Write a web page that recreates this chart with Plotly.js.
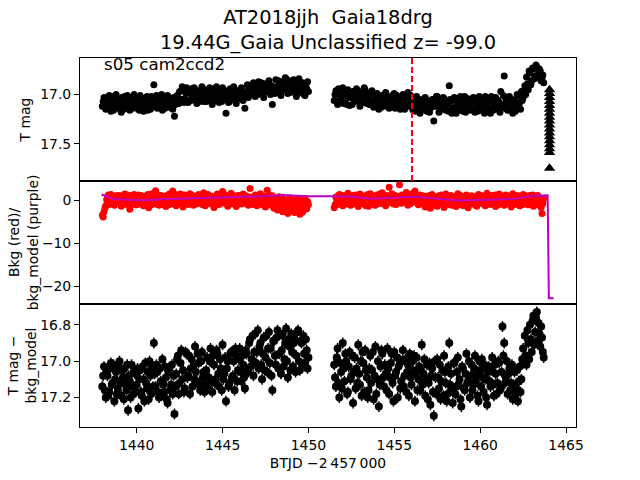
<!DOCTYPE html>
<html>
<head>
<meta charset="utf-8">
<script src="https://cdn.plot.ly/plotly-3.0.1.min.js"></script>
<style>
  html, body { margin: 0; padding: 0; background: #fff; }
  #plot { width: 640px; height: 480px; }
</style>
</head>
<body>
<div id="plot"></div>
<script>
// BTJD - 2457000, first orbit and second orbit
var timeA = [
  1438.00, 1438.05, 1438.10, 1438.15, 1438.20, 1438.25, 1438.30, 1438.35, 1438.40, 1438.45,
  1438.50, 1438.55, 1438.60, 1438.65, 1438.70, 1438.75, 1438.80, 1438.85, 1438.90, 1438.95,
  1439.00, 1439.05, 1439.10, 1439.15, 1439.20, 1439.25, 1439.30, 1439.35, 1439.40, 1439.45,
  1439.50, 1439.55, 1439.60, 1439.65, 1439.70, 1439.75, 1439.80, 1439.85, 1439.90, 1439.95,
  1440.00, 1440.05, 1440.10, 1440.15, 1440.20, 1440.25, 1440.30, 1440.35, 1440.40, 1440.45,
  1440.50, 1440.55, 1440.60, 1440.65, 1440.70, 1440.75, 1440.80, 1440.85, 1440.90, 1440.95,
  1441.00, 1441.05, 1441.10, 1441.15, 1441.20, 1441.25, 1441.30, 1441.35, 1441.40, 1441.45,
  1441.50, 1441.55, 1441.60, 1441.65, 1441.70, 1441.75, 1441.80, 1441.85, 1441.90, 1441.95,
  1442.00, 1442.05, 1442.10, 1442.15, 1442.20, 1442.25, 1442.30, 1442.35, 1442.40, 1442.45,
  1442.50, 1442.55, 1442.60, 1442.65, 1442.70, 1442.75, 1442.80, 1442.85, 1442.90, 1442.95,
  1443.00, 1443.05, 1443.10, 1443.15, 1443.20, 1443.25, 1443.30, 1443.35, 1443.40, 1443.45,
  1443.50, 1443.55, 1443.60, 1443.65, 1443.70, 1443.75, 1443.80, 1443.85, 1443.90, 1443.95,
  1444.00, 1444.05, 1444.10, 1444.15, 1444.20, 1444.25, 1444.30, 1444.35, 1444.40, 1444.45,
  1444.50, 1444.55, 1444.60, 1444.65, 1444.70, 1444.75, 1444.80, 1444.85, 1444.90, 1444.95,
  1445.00, 1445.05, 1445.10, 1445.15, 1445.20, 1445.25, 1445.30, 1445.35, 1445.40, 1445.45,
  1445.50, 1445.55, 1445.60, 1445.65, 1445.70, 1445.75, 1445.80, 1445.85, 1445.90, 1445.95,
  1446.00, 1446.05, 1446.10, 1446.15, 1446.20, 1446.25, 1446.30, 1446.35, 1446.40, 1446.45,
  1446.50, 1446.55, 1446.60, 1446.65, 1446.70, 1446.75, 1446.80, 1446.85, 1446.90, 1446.95,
  1447.00, 1447.05, 1447.10, 1447.15, 1447.20, 1447.25, 1447.30, 1447.35, 1447.40, 1447.45,
  1447.50, 1447.55, 1447.60, 1447.65, 1447.70, 1447.75, 1447.80, 1447.85, 1447.90, 1447.95,
  1448.00, 1448.05, 1448.10, 1448.15, 1448.20, 1448.25, 1448.30, 1448.35, 1448.40, 1448.45,
  1448.50, 1448.55, 1448.60, 1448.65, 1448.70, 1448.75, 1448.80, 1448.85, 1448.90, 1448.95,
  1449.00, 1449.05, 1449.10, 1449.15, 1449.20, 1449.25, 1449.30, 1449.35, 1449.40, 1449.45,
  1449.50, 1449.55, 1449.60, 1449.65, 1449.70, 1449.75, 1449.80, 1449.85, 1449.90, 1449.95,
  1450.00
];
var timeB = [
  1451.50, 1451.55, 1451.60, 1451.65, 1451.70, 1451.75, 1451.80, 1451.85, 1451.90, 1451.95,
  1452.00, 1452.05, 1452.10, 1452.15, 1452.20, 1452.25, 1452.30, 1452.35, 1452.40, 1452.45,
  1452.50, 1452.55, 1452.60, 1452.65, 1452.70, 1452.75, 1452.80, 1452.85, 1452.90, 1452.95,
  1453.00, 1453.05, 1453.10, 1453.15, 1453.20, 1453.25, 1453.30, 1453.35, 1453.40, 1453.45,
  1453.50, 1453.55, 1453.60, 1453.65, 1453.70, 1453.75, 1453.80, 1453.85, 1453.90, 1453.95,
  1454.00, 1454.05, 1454.10, 1454.15, 1454.20, 1454.25, 1454.30, 1454.35, 1454.40, 1454.45,
  1454.50, 1454.55, 1454.60, 1454.65, 1454.70, 1454.75, 1454.80, 1454.85, 1454.90, 1454.95,
  1455.00, 1455.05, 1455.10, 1455.15, 1455.20, 1455.25, 1455.30, 1455.35, 1455.40, 1455.45,
  1455.50, 1455.55, 1455.60, 1455.65, 1455.70, 1455.75, 1455.80, 1455.85, 1455.90, 1455.95,
  1456.00, 1456.05, 1456.10, 1456.15, 1456.20, 1456.25, 1456.30, 1456.35, 1456.40, 1456.45,
  1456.50, 1456.55, 1456.60, 1456.65, 1456.70, 1456.75, 1456.80, 1456.85, 1456.90, 1456.95,
  1457.00, 1457.05, 1457.10, 1457.15, 1457.20, 1457.25, 1457.30, 1457.35, 1457.40, 1457.45,
  1457.50, 1457.55, 1457.60, 1457.65, 1457.70, 1457.75, 1457.80, 1457.85, 1457.90, 1457.95,
  1458.00, 1458.05, 1458.10, 1458.15, 1458.20, 1458.25, 1458.30, 1458.35, 1458.40, 1458.45,
  1458.50, 1458.55, 1458.60, 1458.65, 1458.70, 1458.75, 1458.80, 1458.85, 1458.90, 1458.95,
  1459.00, 1459.05, 1459.10, 1459.15, 1459.20, 1459.25, 1459.30, 1459.35, 1459.40, 1459.45,
  1459.50, 1459.55, 1459.60, 1459.65, 1459.70, 1459.75, 1459.80, 1459.85, 1459.90, 1459.95,
  1460.00, 1460.05, 1460.10, 1460.15, 1460.20, 1460.25, 1460.30, 1460.35, 1460.40, 1460.45,
  1460.50, 1460.55, 1460.60, 1460.65, 1460.70, 1460.75, 1460.80, 1460.85, 1460.90, 1460.95,
  1461.00, 1461.05, 1461.10, 1461.15, 1461.20, 1461.25, 1461.30, 1461.35, 1461.40, 1461.45,
  1461.50, 1461.55, 1461.60, 1461.65, 1461.70, 1461.75, 1461.80, 1461.85, 1461.90, 1461.95,
  1462.00, 1462.05, 1462.10, 1462.15, 1462.20, 1462.25, 1462.30, 1462.35, 1462.40, 1462.45,
  1462.50, 1462.55, 1462.60, 1462.65, 1462.70, 1462.75, 1462.80, 1462.85, 1462.90, 1462.95,
  1463.00, 1463.05, 1463.10, 1463.15, 1463.20, 1463.25, 1463.30, 1463.35, 1463.40, 1463.45,
  1463.50, 1463.55, 1463.60, 1463.65, 1463.70
];

// T mag
var magA = [
  17.12, 17.07, 17.03, 17.10, 17.15, 17.04, 17.08, 17.13, 17.01, 17.09, 17.17, 17.02, 17.06, 17.16, 17.11, 17.05, 17.00, 17.09, 17.14, 17.06,
  17.05, 17.12, 17.18, 17.03, 17.09, 17.15, 17.02, 17.08, 17.13, 17.01, 17.07, 17.11, 17.16, 17.04, 17.03, 17.14, 17.10, 17.00, 17.05, 17.12,
  17.14, 17.03, 17.08, 17.16, 17.01, 17.07, 17.12, 17.04, 17.17, 17.10, 17.06, 17.13, 17.02, 17.16, 17.11, 17.05, 17.15, 17.02, 17.04, 17.10,
  16.90, 17.04, 17.09, 17.01, 17.14, 17.08, 17.02, 17.12, 17.07, 17.00, 17.16, 17.06, 17.04, 17.14, 17.10, 17.03, 17.01, 17.11, 17.13, 17.05,
  17.06, 17.12, 17.15, 17.03, 17.22, 17.10, 17.08, 17.01, 17.03, 17.09, 16.97, 17.05, 17.06, 16.92, 16.95, 17.08, 17.04, 16.98, 16.93, 17.06,
  17.08, 16.95, 16.99, 17.06, 16.94, 17.01, 17.05, 16.93, 16.98, 17.04, 17.09, 16.97, 16.96, 17.07, 17.02, 16.95, 16.92, 17.03, 17.07, 16.98,
  17.00, 17.07, 16.95, 17.02, 17.06, 16.93, 16.99, 17.05, 17.10, 16.98, 16.94, 17.06, 17.03, 16.92, 16.97, 17.04, 17.08, 16.96, 17.01, 17.07,
  16.93, 17.00, 17.05, 16.96, 17.19, 17.03, 16.98, 17.08, 17.07, 16.94, 16.95, 17.02, 17.04, 16.92, 16.99, 17.06, 17.09, 17.00, 16.96, 17.04,
  17.02, 16.96, 16.93, 17.04, 17.06, 16.98, 17.14, 17.01, 16.97, 16.90, 17.03, 16.95, 16.91, 17.00, 16.99, 16.92, 16.88, 16.97, 17.02, 16.90,
  16.94, 17.00, 16.87, 16.95, 16.98, 16.88, 16.92, 16.99, 17.03, 16.93, 16.89, 16.97, 16.96, 16.90, 16.86, 16.98, 17.00, 16.91, 17.10, 16.95,
  16.93, 16.99, 16.85, 16.92, 16.97, 16.86, 16.90, 16.96, 17.01, 16.93, 16.87, 16.95, 16.95, 16.83, 16.84, 16.92, 16.99, 16.88, 16.91, 16.98,
  16.86, 16.93, 16.97, 16.85, 16.89, 16.96, 17.02, 16.91, 16.93, 16.84, 16.87, 16.95, 16.98, 16.88, 16.91, 17.00, 17.01, 16.90, 16.94, 16.87,
  16.97
];
var magB = [
  17.06, 17.00, 16.96, 17.07, 17.10, 16.94, 16.99, 17.05, 17.04, 16.98, 16.93, 17.09, 17.08, 16.96, 17.01, 17.10, 16.95, 17.03, 17.11, 16.99,
  17.03, 17.10, 16.97, 17.02, 17.07, 16.99, 16.94, 17.06, 17.05, 16.97, 17.12, 17.01, 16.98, 17.08, 17.02, 16.93, 16.95, 17.04, 17.09, 16.99,
  17.00, 17.10, 17.06, 16.98, 16.96, 17.08, 17.13, 17.01, 17.04, 17.12, 16.99, 17.06, 17.15, 17.02, 17.07, 17.13, 17.01, 17.05, 17.11, 17.00,
  16.98, 17.12, 17.08, 17.03, 17.14, 17.06, 17.02, 17.11, 17.10, 17.00, 16.99, 17.14, 17.06, 17.01, 17.13, 17.07, 17.03, 17.15, 17.09, 17.04,
  17.00, 17.09, 17.15, 17.03, 17.05, 17.12, 16.98, 17.07, 17.11, 17.01, 17.04, 17.14, 17.16, 17.06, 17.08, 17.17, 17.02, 17.10, 17.13, 17.05,
  17.19, 17.09, 17.06, 17.15, 17.11, 17.04, 17.03, 17.13, 17.17, 17.07, 17.09, 17.18, 17.14, 17.06, 17.05, 17.12, 17.27, 17.08, 17.12, 17.02,
  17.02, 17.11, 17.18, 17.06, 17.08, 17.15, 17.13, 17.03, 17.04, 17.12, 17.16, 17.07, 17.10, 17.17, 16.91, 17.05, 17.07, 17.19, 17.14, 17.04,
  17.03, 17.13, 17.19, 17.06, 17.09, 17.16, 17.12, 17.02, 17.05, 17.14, 17.17, 17.08, 17.02, 17.18, 17.11, 17.04, 17.15, 17.09, 17.06, 17.16,
  17.13, 17.07, 17.03, 17.15, 17.18, 17.05, 17.08, 17.17, 17.12, 17.02, 17.04, 17.13, 17.16, 17.06, 17.09, 17.19, 17.02, 17.10, 17.14, 17.05,
  17.07, 17.14, 17.19, 17.02, 17.05, 17.16, 17.11, 17.04, 17.03, 17.13, 17.15, 17.06, 17.08, 17.18, 16.97, 17.10, 17.12, 17.01, 16.81, 17.14,
  17.05, 17.11, 17.16, 17.03, 17.02, 17.14, 17.10, 17.05, 17.19, 17.08, 17.06, 17.17, 17.13, 17.00, 17.01, 17.12, 17.08, 17.15, 16.97, 17.06,
  17.03, 16.96, 16.91, 17.00, 16.82, 16.89, 16.95, 16.76, 16.78, 16.90, 16.86, 16.73, 16.74, 16.84, 16.81, 16.70, 16.72, 16.83, 16.79, 16.74,
  16.76, 16.86, 16.84, 16.80, 16.88
];

// upper limits (triangles)
var limTime = [1464.04, 1464.04, 1464.04, 1464.04, 1464.04, 1464.04, 1464.04, 1464.04, 1464.04,
               1464.04, 1464.04, 1464.04, 1464.04, 1464.04, 1464.04, 1464.04, 1464.04, 1464.04];
var limMag = [16.95, 16.99, 17.03, 17.07, 17.11, 17.15, 17.19, 17.23, 17.27,
              17.31, 17.35, 17.39, 17.43, 17.47, 17.51, 17.55, 17.59, 17.75];

// background (red)
var bkgA = [
  -3.4, -3.8, -2.6, -1.8, -1.2, 0.2, 0.8, 1.3, -0.9, 0.5, 1.4, -0.6, 0.2, 1.0, -1.1, -0.2, 1.1, 0.6, -0.4, 1.2,
  0.9, -0.3, -1.3, 1.1, 0.5, -0.9, 1.5, 0.4, -0.7, 1.3, 0.3, -1.1, -2.0, 0.6, 1.2, -0.8, -0.2, 1.4, 0.7, -1.0,
  -1.0, 0.5, 1.3, -0.1, -0.5, 1.2, 0.4, -0.9, -1.2, 0.7, 1.0, -0.6, -0.3, 1.4, -1.7, 0.2, 0.6, -1.0, 1.6, 0.1,
  -0.6, 0.9, 2.3, -0.8, 0.1, 1.3, -1.1, 0.4, 1.2, -0.9, -0.4, 1.0, 0.8, -0.5, -1.4, 1.1, 0.3, -1.0, 1.5, 0.0,
  -0.8, 1.2, 2.2, -0.3, 0.5, 1.4, -1.2, 0.3, 1.0, -0.7, -0.1, 1.5, 0.7, -0.9, -1.5, 0.6, 1.3, -0.4, 0.0, 1.1,
  -0.9, 0.8, 1.6, -0.5, 0.4, 1.2, -1.1, 0.2, 0.9, -0.8, -0.3, 1.0, 1.4, -0.2, -0.7, 1.3, 0.6, -1.0, 1.8, 0.1,
  -1.2, 0.9, 0.2, 1.4, 1.1, -0.7, -0.5, 1.0, 0.8, -0.3, -1.6, 0.6, 0.3, -1.0, 1.5, 0.1, -0.9, 1.2, 0.5, -0.6,
  2.1, 0.7, -0.2, 1.3, 1.0, -0.5, -1.3, 0.9, 0.6, -0.8, 1.7, 0.2, -0.6, 1.1, 0.1, -1.0, -1.4, 0.5, 1.2, -0.3,
  0.4, 1.2, -0.8, 0.6, 1.5, -0.6, -0.1, 1.1, 0.9, -0.4, -1.1, 0.8, 2.8, -0.2, 0.7, -0.9, -0.5, 1.0, 1.3, -0.7,
  -1.2, 0.7, 0.2, -0.6, 1.6, 0.3, -0.9, 1.0, 0.5, -1.1, -1.5, 0.8, 2.4, -0.4, 0.0, 1.2, -1.0, 0.4, 1.1, -1.4,
  -1.8, -0.6, 0.4, -1.2, -2.2, -0.3, 0.9, -2.0, -1.3, 0.6, -2.6, -0.9, 0.2, -2.4, -1.7, 0.1, -3.0, -1.1, 0.6, -2.5,
  -2.1, 0.2, -0.8, -1.6, -2.8, -0.5, 0.3, -2.2, -1.5, 0.4, -3.2, -1.0, -0.4, -2.7, -2.3, 0.1, 0.5, -1.4, -1.9, -0.2,
  -0.9
];
var bkgB = [
  -1.7, -1.0, 0.8, -0.3, -0.9, 0.9, 1.4, -0.6, 0.1, 1.2, -1.2, 0.5, 1.1, -0.8, -0.4, 1.0, 1.7, -0.2, 0.3, -1.1,
  -1.0, 0.6, 1.2, -0.7, -0.3, 1.3, 0.7, -0.9, -1.4, 0.4, 1.5, -0.5, 0.0, 1.1, -0.8, 0.8, 1.0, -1.2, 0.4, 1.4,
  -1.3, 0.3, 1.6, -0.2, -0.5, 1.1, 0.9, -1.0, -1.1, 0.6, 1.3, -0.4, 0.2, 1.5, -0.7, 0.8, 1.8, -0.6, 0.5, 1.2,
  -1.2, 0.4, 1.1, -0.5, 3.1, 0.9, -0.4, 1.6, 1.4, -0.8, 0.3, 1.2, -0.9, 0.7, 0.6, -0.3, 3.7, 1.0, -0.6, 1.3,
  1.2, -0.5, 0.1, 1.4, 1.9, 0.3, -1.1, 0.9, 0.7, -0.7, 1.5, 0.2, -0.3, 1.7, 2.2, -0.4, 0.4, 1.1, -1.0, 0.6,
  1.3, 0.2, -0.6, 1.1, 0.8, -0.9, -1.5, 0.6, 1.0, -0.4, 0.0, 1.2, -1.8, -0.3, 1.4, 0.4, -0.8, 0.9, 0.5, -1.2,
  -1.3, 0.5, 1.1, -0.7, -0.2, 1.3, 0.7, -1.0, -1.6, 0.4, 1.5, -0.5, 0.3, 1.0, -0.9, 0.8, 1.2, -1.1, -0.4, 0.9,
  0.6, -0.3, -1.4, 0.8, 1.6, -0.6, 0.1, 1.2, -1.0, 0.3, 0.9, -1.2, -0.5, 0.7, 1.3, -0.8, -1.7, 1.0, 0.4, -0.4,
  1.1, -0.2, -0.8, 0.9, 0.2, -1.0, -1.3, 0.6, 1.4, -0.5, 0.5, 1.2, -0.6, 0.3, 1.0, -0.9, -1.2, 0.7, 1.7, -0.1,
  0.0, 1.0, -0.9, 0.5, 1.2, -0.6, 0.3, 1.3, -1.4, -0.2, 0.8, -1.0, 1.5, 0.2, -0.7, 1.1, 0.4, -0.5, -1.1, 0.9,
  1.3, -0.7, -0.3, 1.0, 0.9, -0.4, -1.5, 0.5, 1.6, -0.9, 0.2, 1.2, -0.8, 0.7, 1.1, -0.5, -1.2, 0.8, 0.6, -1.0,
  1.4, 0.3, -0.5, 1.1, 0.9, -0.8, -1.0, 0.6, 1.2, -0.3, 0.0, 1.3, -1.3, 0.4, 1.0, -0.9, -0.6, 1.2, 0.8, -0.4,
  -1.1, -1.6, -3.0, -0.7, 0.4
];

// background model (purple)
var modelTime = [1437.95, 1438.2, 1438.5, 1438.8, 1439.5, 1440.3, 1441.5, 1442.5, 1444.2,
                 1446.0, 1447.5, 1448.5, 1449.2, 1449.9, 1451.5, 1452.6, 1453.6, 1454.8,
                 1456.1, 1457.5, 1458.8, 1460.5, 1462.0, 1463.1, 1463.93, 1464.0, 1464.28];
var modelBkg = [1.4, 1.0, 0.6, 0.3, 0.2, 0.1, 0.3, 0.4, 0.6,
                0.8, 1.0, 1.3, 1.2, 1.0, 1.0, 0.9, 0.4, 0.6,
                0.9, 0.4, 0.0, 0.2, 0.4, 1.1, 1.2, -22.7, -22.7];

// T mag - bkg_model
var detA = [
  17.14, 17.08, 17.03, 17.16, 17.20, 17.05, 17.08, 17.19, 17.17, 17.04, 17.01, 17.13, 17.12, 17.02, 17.22, 17.10, 17.06, 17.18, 17.15, 17.03,
  17.00, 17.12, 17.19, 17.05, 17.09, 17.21, 17.04, 17.13, 17.16, 17.02, 17.27, 17.08, 17.11, 17.20, 17.02, 17.14, 17.18, 17.05, 17.07, 17.17,
  17.13, 17.04, 17.26, 17.10, 17.05, 17.17, 17.19, 17.03, 17.10, 17.22, 17.01, 17.12, 17.15, 17.06, 17.21, 17.00, 17.08, 17.18, 17.03, 17.14,
  16.90, 17.07, 17.14, 17.02, 17.06, 17.17, 17.20, 17.04, 17.11, 17.19, 16.99, 17.13, 17.17, 17.03, 17.09, 17.21, 17.23, 17.06, 17.04, 17.16,
  17.13, 17.02, 17.18, 17.08, 17.29, 17.14, 17.07, 16.99, 16.97, 17.18, 17.12, 17.01, 16.94, 17.10, 17.05, 17.17, 17.15, 16.95, 16.96, 17.09,
  17.08, 16.97, 17.18, 17.04, 16.99, 17.14, 17.03, 17.10, 16.92, 17.06, 17.11, 16.96, 17.01, 17.13, 17.16, 17.00, 16.95, 17.09, 17.06, 17.17,
  17.13, 17.05, 16.98, 17.15, 17.09, 17.00, 16.93, 17.11, 17.17, 16.97, 17.02, 17.12, 17.10, 16.94, 16.96, 17.07, 17.14, 16.99, 17.04, 17.16,
  16.91, 17.10, 17.07, 16.98, 17.22, 17.04, 17.00, 17.14, 17.12, 16.96, 16.95, 17.09, 17.08, 17.00, 17.16, 16.93, 16.97, 17.11, 17.05, 16.99,
  16.93, 17.06, 17.11, 16.97, 17.02, 17.09, 17.15, 16.94, 16.96, 17.05, 17.06, 16.90, 16.88, 17.03, 16.99, 16.86, 17.08, 16.95, 16.85, 17.01,
  16.95, 16.83, 17.04, 16.92, 16.90, 17.02, 17.10, 16.96, 16.87, 17.05, 16.98, 16.86, 17.06, 16.93, 16.84, 17.01, 16.93, 17.08, 17.16, 16.89,
  16.89, 16.97, 17.02, 16.87, 16.83, 17.04, 16.96, 16.85, 17.07, 16.94, 16.86, 17.03, 16.99, 16.90, 16.82, 17.00, 17.09, 16.88, 16.92, 17.05,
  16.85, 16.95, 17.03, 16.90, 16.88, 17.06, 16.97, 16.84, 16.83, 17.00, 17.05, 16.89, 16.90, 17.02, 16.86, 16.96, 17.01, 16.88, 16.94, 17.04,
  16.98
];
var detB = [
  17.02, 17.09, 17.14, 16.98, 16.93, 17.12, 17.20, 17.01, 17.06, 17.15, 16.90, 17.04, 17.11, 16.96, 17.00, 17.18, 17.17, 17.03, 16.95, 17.10,
  17.08, 16.97, 17.23, 17.06, 16.98, 17.15, 17.04, 17.12, 16.91, 17.07, 17.13, 17.00, 17.19, 16.95, 17.01, 17.17, 16.94, 17.05, 17.09, 17.20,
  17.16, 17.04, 16.97, 17.12, 17.05, 16.95, 17.21, 17.08, 16.92, 17.18, 17.10, 17.00, 17.25, 17.13, 17.03, 16.94, 16.96, 17.09, 17.14, 17.02,
  17.07, 17.16, 16.93, 17.04, 17.18, 17.09, 17.01, 16.96, 17.12, 17.22, 16.95, 17.08, 17.06, 16.98, 17.20, 17.03, 16.99, 17.15, 17.11, 17.00,
  16.94, 17.14, 17.08, 16.99, 17.17, 17.06, 17.02, 17.19, 16.96, 17.09, 17.13, 17.00, 17.05, 16.97, 17.22, 17.07, 16.98, 17.16, 17.10, 17.03,
  17.16, 17.05, 16.91, 17.13, 17.07, 16.99, 17.19, 17.10, 17.02, 17.21, 17.12, 17.01, 17.24, 17.08, 17.04, 17.17, 17.30, 17.00, 17.09, 17.18,
  16.99, 17.09, 17.15, 17.02, 17.21, 17.11, 17.05, 17.19, 16.97, 17.06, 17.12, 17.22, 17.18, 17.03, 16.90, 17.13, 17.07, 17.16, 17.23, 17.01,
  17.01, 17.18, 17.14, 17.06, 16.98, 17.13, 17.10, 17.21, 17.25, 17.03, 17.04, 17.15, 17.16, 17.07, 16.96, 17.12, 17.11, 17.00, 17.20, 17.08,
  17.02, 17.16, 17.13, 17.04, 16.97, 17.11, 17.08, 17.19, 17.22, 17.00, 17.05, 17.14, 16.99, 17.09, 17.17, 17.02, 17.10, 17.20, 17.24, 17.06,
  17.03, 17.11, 17.14, 17.05, 16.98, 17.13, 17.19, 17.02, 17.07, 17.18, 17.12, 17.00, 17.01, 17.16, 17.15, 17.06, 16.81, 16.97, 16.90, 17.12,
  17.09, 17.00, 17.18, 17.07, 17.04, 17.16, 17.12, 17.02, 17.21, 17.13, 17.06, 17.19, 17.15, 17.05, 17.22, 17.11, 17.03, 17.17, 17.10, 16.99,
  16.93, 17.01, 16.86, 16.97, 17.02, 16.83, 16.90, 16.99, 16.80, 16.88, 16.95, 16.78, 16.75, 16.91, 16.84, 16.76, 16.73, 16.89, 16.79, 16.85,
  16.92, 16.81, 16.87, 16.95, 16.98
];

var peakTime = 1456.03;

var time = timeA.concat(timeB);
var mag = magA.concat(magB);
var bkg = bkgA.concat(bkgB);
var det = detA.concat(detB);

var FONT = "DejaVu Sans, sans-serif";

var trace1 = {
  x: time, y: mag, xaxis: "x", yaxis: "y",
  type: "scatter", mode: "markers",
  marker: {color: "black", size: 7},
  error_y: {type: "constant", value: 0.025, color: "black", thickness: 1, width: 0},
  hoverinfo: "skip"
};
var trace2 = {
  x: limTime, y: limMag, xaxis: "x", yaxis: "y",
  type: "scatter", mode: "markers",
  marker: {color: "black", size: 10, symbol: "triangle-up"},
  hoverinfo: "skip"
};
var trace3 = {
  x: time, y: bkg, xaxis: "x2", yaxis: "y2",
  type: "scatter", mode: "markers",
  marker: {color: "red", size: 7},
  hoverinfo: "skip"
};
var trace4 = {
  x: modelTime, y: modelBkg, xaxis: "x2", yaxis: "y2",
  type: "scatter", mode: "lines",
  line: {color: "#bf00bf", width: 2},
  hoverinfo: "skip"
};
var trace5 = {
  x: time, y: det, xaxis: "x3", yaxis: "y3",
  type: "scatter", mode: "markers",
  marker: {color: "black", size: 8},
  error_y: {type: "constant", value: 0.03, color: "black", thickness: 1.5, width: 0},
  hoverinfo: "skip"
};

var data = [trace1, trace2, trace3, trace4, trace5];

var axisBase = {
  showline: true, mirror: true, linecolor: "black", linewidth: 1,
  showgrid: false, zeroline: false,
  ticks: "outside", ticklen: 5, tickwidth: 1, tickcolor: "black",
  tickfont: {family: FONT, size: 13.9, color: "black"}
};

function ax(extra) {
  return Object.assign({}, axisBase, extra);
}

var layout = {
  width: 640, height: 480,
  margin: {l: 80, r: 64, t: 58, b: 53},
  paper_bgcolor: "white", plot_bgcolor: "white",
  showlegend: false,
  font: {family: FONT, color: "black"},
  title: {
    text: "AT2018jjh \u00a0Gaia18drg<br>19.44G_Gaia Unclassified z= -99.0",
    font: {family: FONT, size: 19.4, color: "black"},
    x: 0.5, xref: "paper", xanchor: "center",
    y: 0.95, yref: "container", yanchor: "top"
  },
  xaxis: ax({anchor: "y", matches: "x3", showticklabels: false, ticks: ""}),
  xaxis2: ax({anchor: "y2", matches: "x3", showticklabels: false, ticks: ""}),
  xaxis3: ax({
    anchor: "y3", range: [1436.70, 1465.58],
    tickvals: [1440, 1445, 1450, 1455, 1460, 1465],
    title: {text: "BTJD \u22122\u2009457\u2009000", font: {family: FONT, size: 13.9, color: "black"}, standoff: 6}
  }),
  yaxis: ax({
    domain: [0.6667, 1], range: [17.879, 16.628],
    tickvals: [17.0, 17.5], tickformat: ".1f",
    title: {text: "T mag", font: {family: FONT, size: 13.9, color: "black"}, standoff: 6}
  }),
  yaxis2: ax({
    domain: [0.3333, 0.6667], range: [-24.06, 4.55],
    tickvals: [0, -10, -20],
    title: {text: "Bkg (red)/<br>bkg_model (purple)", font: {family: FONT, size: 13.9, color: "black"}, standoff: 0}
  }),
  yaxis3: ax({
    domain: [0, 0.3333], range: [17.362, 16.686],
    tickvals: [16.8, 17.0, 17.2], tickformat: ".1f",
    title: {text: "T mag \u2212<br>bkg_model", font: {family: FONT, size: 13.9, color: "black"}, standoff: 0}
  }),
  shapes: [{
    type: "line", xref: "x", yref: "y domain",
    x0: peakTime, x1: peakTime, y0: 0, y1: 1,
    line: {color: "red", width: 2, dash: "6px,3px"}
  }],
  annotations: [{
    text: "s05 cam2ccd2", showarrow: false,
    xref: "paper", yref: "paper",
    x: 0.044, xanchor: "left",
    y: 0.985, yanchor: "middle",
    font: {family: FONT, size: 16.7, color: "black"}
  }]
};

Plotly.newPlot("plot", data, layout, {staticPlot: true});
</script>
</body>
</html>
